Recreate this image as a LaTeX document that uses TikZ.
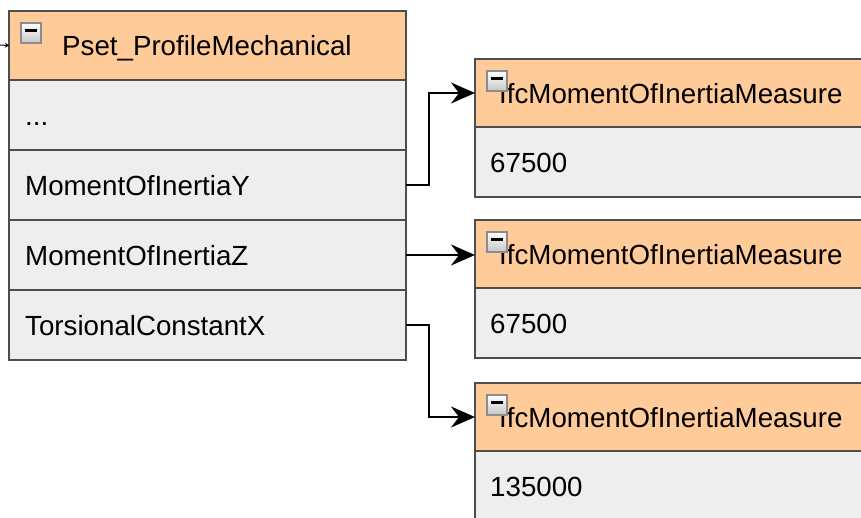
\documentclass[tikz,border=0pt]{standalone}
\usepackage{fontspec}
\setmainfont{Liberation Sans}
\usepackage{tikz}
\usetikzlibrary{calc, positioning, arrows.meta}
\usepackage{xcolor}
\definecolor{hdrFill}{RGB}{255, 204, 153}
\definecolor{rowFill}{RGB}{238, 238, 238}
\definecolor{boxLine}{RGB}{77, 77, 77}
\definecolor{iconLine}{RGB}{140, 140, 140}
\newcommand{\boxfont}{\fontsize{27.7pt}{33pt}\selectfont}

\begin{document}
\begin{tikzpicture}[x=1pt, y=-1pt,
    hdr/.style={draw=boxLine, line width=2pt, fill=hdrFill, anchor=north west,
      inner sep=0pt, outer sep=0pt},
    row/.style={draw=boxLine, line width=2pt, fill=rowFill, anchor=north,
      inner sep=0pt, outer sep=0pt, minimum height=70pt},
    lbl/.style={font=\boxfont, anchor=base west, inner sep=0pt, text=black},
    icon/.style={draw=iconLine, line width=1.5pt, top color=white, bottom color=black!22,
      anchor=north west, minimum size=20pt, inner sep=0pt,
      path picture={\fill[black] ($(path picture bounding box.north west)!0.5!(path picture bounding box.north east)+(-6pt,-6.5pt)$)
        rectangle ++(12pt,-3pt);}},
    link/.style={draw=black, line width=2pt, -{Stealth[length=24pt, width=21pt, inset=8pt]}}]
  % page
  \path[use as bounding box, clip] (0,0) rectangle (861,517);

  % Left property set
  \node[hdr, minimum width=397pt, minimum height=69pt] (pset) at (9,11) {};
  \node[row, minimum width=397pt, below=0pt of pset] (dots) {};
  \node[row, minimum width=397pt, below=0pt of dots] (momY) {};
  \node[row, minimum width=397pt, below=0pt of momY] (momZ) {};
  \node[row, minimum width=397pt, below=0pt of momZ] (torX) {};

  \node[lbl] (psetT) at ([xshift=53pt, yshift=-10pt]pset.west) {Pset\_ProfileMechanical};
  \node[lbl] (dotsT) at ([xshift=16pt, yshift=-10pt]dots.west) {...};
  \node[lbl] (momYT) at ([xshift=16pt, yshift=-10pt]momY.west) {MomentOfInertiaY};
  \node[lbl] (momZT) at ([xshift=16pt, yshift=-10pt]momZ.west) {MomentOfInertiaZ};
  \node[lbl] (torXT) at ([xshift=16pt, yshift=-10pt]torX.west) {TorsionalConstantX};
  \node[icon] (psetI) at ([xshift=11pt, yshift=-11pt]pset.north west) {};

  % Measures on the right
  \foreach \nm/\y/\val in {mA/59/67500, mB/220/67500, mC/383/135000} {
    \node[hdr, minimum width=400pt, minimum height=68pt] (\nm) at (475,\y) {};
    \node[row, minimum width=400pt, below=0pt of \nm] (\nm v) {};
    \node[lbl] (\nm T) at ([xshift=24pt, yshift=-10pt]\nm.west) {IfcMomentOfInertiaMeasure};
    \node[lbl] (\nm vT) at ([xshift=15pt, yshift=-10pt]\nm v.west) {\val};
    \node[icon] (\nm I) at ([xshift=11pt, yshift=-11pt]\nm.north west) {};
  }

  % Connectors
  \coordinate (inc) at (0,45);
  \draw[draw=black, line width=1pt, -{Stealth[length=4pt, width=5pt]}] (inc) -- (pset.west);
  \draw[link] (momY.east) -- ++(23pt,0) |- (mA.west);
  \draw[link] (momZ.east) -- (momZ.east -| mB.west);
  \draw[link] (torX.east) -- ++(23pt,0) |- (mC.west);
\end{tikzpicture}
\end{document}
